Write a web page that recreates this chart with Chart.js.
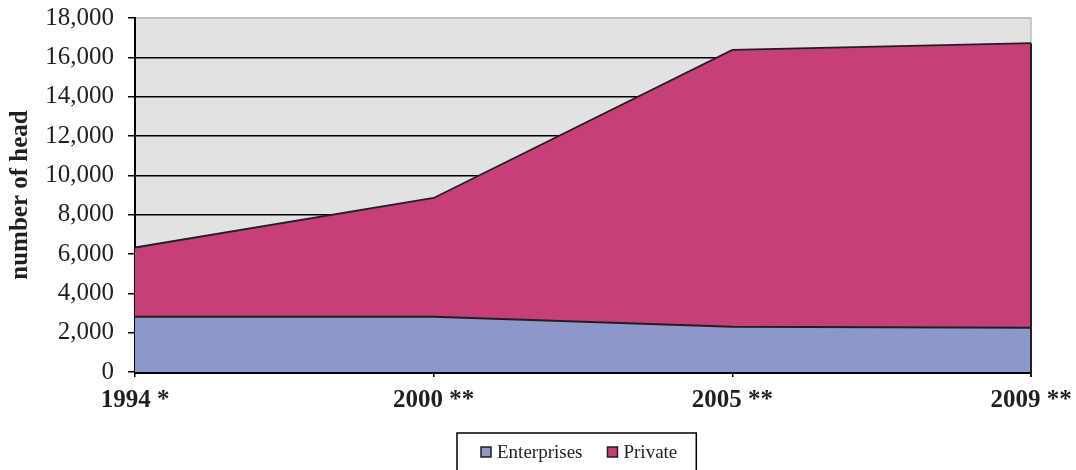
<!DOCTYPE html>
<html>
<head>
<meta charset="utf-8">
<script src="https://cdn.jsdelivr.net/npm/chart.js@4/dist/chart.umd.min.js"></script>
<style>
  html, body { margin: 0; padding: 0; background: #ffffff; }
  #wrap { width: 1076px; height: 470px; }
</style>
</head>
<body>
<div id="wrap"><canvas id="c" width="1076" height="470"></canvas></div>
<script>
// Livestock counts by holding type (number of head)
const years = ['1994 *', '2000 **', '2005 **', '2009 **'];
const enterprises = [2810, 2810, 2300, 2250];
const privateHoldings = [3520, 6040, 14080, 14470];
const yTickValues = [0, 2000, 4000, 6000, 8000, 10000, 12000, 14000, 16000, 18000];
const seriesNames = ['Enterprises', 'Private'];

const COLORS = {
  enterprises: '#8C98C9',
  private: '#C44077',
  outline: '#231F20',
  plotBg: '#E1E2E4',
  plotEdge: '#BDBEC0'
};
const SERIF = "'Liberation Serif', 'Times New Roman', serif";

// Grey plot background with a thin light frame
const plotBackground = {
  id: 'plotBackground',
  beforeDraw(chart) {
    const { ctx, chartArea: a } = chart;
    ctx.save();
    ctx.fillStyle = COLORS.plotBg;
    ctx.fillRect(a.left, a.top, a.right - a.left, a.bottom - a.top);
    ctx.strokeStyle = COLORS.plotEdge;
    ctx.lineWidth = 1.5;
    ctx.strokeRect(a.left, a.top, a.right - a.left, a.bottom - a.top);
    ctx.restore();
  }
};

// Closes the stacked areas along the right edge with a dark outline
const areaEdges = {
  id: 'areaEdges',
  afterDatasetsDraw(chart) {
    const { ctx, chartArea: a, scales } = chart;
    const last = years.length - 1;
    const total = enterprises[last] + privateHoldings[last];
    const yTop = scales.y.getPixelForValue(total);
    ctx.save();
    ctx.strokeStyle = COLORS.outline;
    ctx.lineWidth = 2;
    ctx.beginPath();
    ctx.moveTo(a.right, yTop);
    ctx.lineTo(a.right, a.bottom + 5);
    ctx.stroke();
    ctx.restore();
  }
};

// Boxed legend under the axis
const boxedLegend = {
  id: 'boxedLegend',
  afterDraw(chart, args, opts) {
    const { ctx } = chart;
    const font = `${opts.fontSize}px ${SERIF}`;
    ctx.save();
    ctx.font = font;
    const items = chart.data.datasets.map(ds => ({
      text: ds.label, color: ds.backgroundColor, w: ctx.measureText(ds.label).width
    }));
    const sq = opts.square, gapText = opts.gapText, gapItem = opts.gapItem;
    const contentW = items.reduce((s, it) => s + sq + gapText + it.w, 0) + gapItem * (items.length - 1);
    const boxLeft = opts.left;
    const boxRight = boxLeft + opts.padLeft + contentW + opts.padRight;
    const boxTop = opts.top;
    ctx.strokeStyle = '#000000';
    ctx.lineWidth = 1.5;
    ctx.strokeRect(boxLeft, boxTop, boxRight - boxLeft, chart.height - boxTop + 10);
    let x = boxLeft + opts.padLeft;
    const cy = boxTop + opts.rowOffset;
    ctx.textBaseline = 'middle';
    ctx.textAlign = 'left';
    items.forEach(it => {
      ctx.fillStyle = it.color;
      ctx.fillRect(x, cy - sq / 2, sq, sq);
      ctx.strokeStyle = COLORS.outline;
      ctx.lineWidth = 1.5;
      ctx.strokeRect(x, cy - sq / 2, sq, sq);
      x += sq + gapText;
      ctx.fillStyle = '#231F20';
      ctx.fillText(it.text, x, cy + 1);
      x += it.w + gapItem;
    });
    ctx.restore();
  }
};

new Chart(document.getElementById('c'), {
  type: 'line',
  data: {
    labels: years,
    datasets: [
      {
        label: seriesNames[0],
        data: enterprises,
        backgroundColor: COLORS.enterprises,
        borderColor: COLORS.outline,
        borderWidth: 1.8,
        fill: 'origin',
        pointRadius: 0,
        tension: 0
      },
      {
        label: seriesNames[1],
        data: privateHoldings,
        backgroundColor: COLORS.private,
        borderColor: COLORS.outline,
        borderWidth: 1.8,
        fill: '-1',
        pointRadius: 0,
        tension: 0
      }
    ]
  },
  options: {
    responsive: false,
    animation: false,
    devicePixelRatio: 1,
    layout: { padding: { top: 18, right: 45, left: 0, bottom: 0 } },
    plugins: {
      legend: { display: false },
      tooltip: { enabled: false },
      boxedLegend: {
        left: 457, top: 433, padLeft: 24, padRight: 19,
        square: 10, gapText: 6, gapItem: 25, fontSize: 19, rowOffset: 19
      }
    },
    scales: {
      x: {
        type: 'category',
        offset: false,
        grid: {
          drawOnChartArea: false,
          drawTicks: true,
          tickLength: 5,
          tickColor: '#000000',
          lineWidth: 1.5
        },
        border: { display: true, color: '#000000', width: 3 },
        ticks: {
          color: '#231F20',
          font: { family: SERIF, size: 25, weight: 'bold' },
          padding: 9,
          maxRotation: 0,
          autoSkip: false
        },
        afterFit(scale) {
          scale.height = 98;
          scale.paddingLeft = 0;
          scale.paddingRight = 0;
        }
      },
      y: {
        stacked: true,
        min: 0,
        max: 18000,
        afterBuildTicks(scale) {
          scale.ticks = yTickValues.map(v => ({ value: v }));
        },
        grid: {
          color: ctx => (ctx.tick && ctx.tick.value === 18000 ? COLORS.plotEdge : '#000000'),
          lineWidth: 1.5,
          drawTicks: true,
          tickLength: 7,
          tickColor: '#000000'
        },
        border: { display: true, color: '#000000', width: 2 },
        ticks: {
          color: '#231F20',
          font: { family: SERIF, size: 25 },
          padding: 14,
          callback: v => Number(v).toLocaleString('en-US')
        },
        title: {
          display: true,
          text: 'number of head',
          color: '#231F20',
          font: { family: SERIF, size: 25, weight: 'bold' },
          padding: { top: 6, bottom: 0 }
        },
        afterFit(scale) {
          scale.width = 135;
          scale.paddingTop = 0;
          scale.paddingBottom = 0;
        }
      }
    }
  },
  plugins: [plotBackground, areaEdges, boxedLegend]
});
</script>
</body>
</html>
